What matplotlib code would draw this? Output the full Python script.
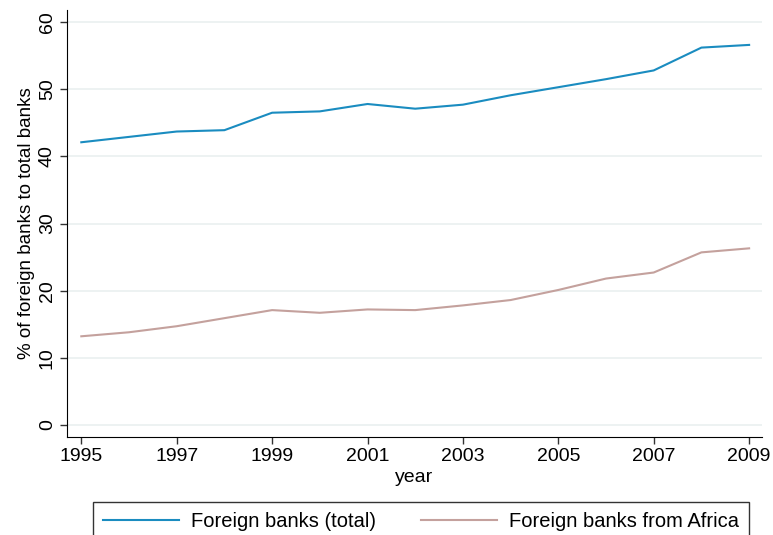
import matplotlib
matplotlib.use("Agg")
import matplotlib.pyplot as plt

years = list(range(1995, 2010))
total = [42.1, 42.9, 43.7, 43.9, 46.5, 46.7, 47.8, 47.1, 47.7, 49.1, 50.3, 51.5, 52.8, 56.2, 56.6]
africa = [13.2, 13.8, 14.7, 15.9, 17.1, 16.7, 17.2, 17.1, 17.8, 18.6, 20.1, 21.8, 22.7, 25.7, 26.3]
xticks = list(range(1995, 2010, 2))
yticks = [0, 10, 20, 30, 40, 50, 60]

plt.rcParams['font.family'] = ['Liberation Sans', 'DejaVu Sans']

fig = plt.figure(figsize=(7.73, 5.35), dpi=100)
ax = fig.add_axes([67/773, 1-437/535, (762-67)/773, (437-10)/535])

ax.plot(years, total, color='#1a8cc0', lw=1.5, label='Foreign banks (total)')
ax.plot(years, africa, color='#c4a19d', lw=1.5, label='Foreign banks from Africa')

ax.set_xlim(1994.7, 2009.27)
ax.set_ylim(-1.8, 61.8)
ax.set_xticks(xticks)
ax.set_yticks(yticks)
ax.set_yticklabels([str(v) for v in yticks], rotation=90, va='center')
for v in yticks:
    ax.axhline(v, color='#eaf0f0', lw=1.2, zorder=0)
ax.spines['top'].set_visible(False)
ax.spines['right'].set_visible(False)
ax.tick_params(axis='both', labelsize=14, length=5, width=1, color='#333333', direction='out')
ax.tick_params(axis='x', pad=3)
ax.tick_params(axis='y', pad=3)
ax.set_xlabel('year', fontsize=14, labelpad=3)
ax.set_ylabel('% of foreign banks to total banks', fontsize=13.5, labelpad=3)

leg = fig.legend(loc='upper center', bbox_to_anchor=(421/773, 1-502/535), ncol=2,
                 prop={'size': 14.5}, frameon=True, fancybox=False, edgecolor='black',
                 handlelength=3.8, handletextpad=0.6, columnspacing=2.2, borderpad=0.5,
                 borderaxespad=0)
leg.get_frame().set_linewidth(1.0)

fig.savefig('out.png', dpi=100)
